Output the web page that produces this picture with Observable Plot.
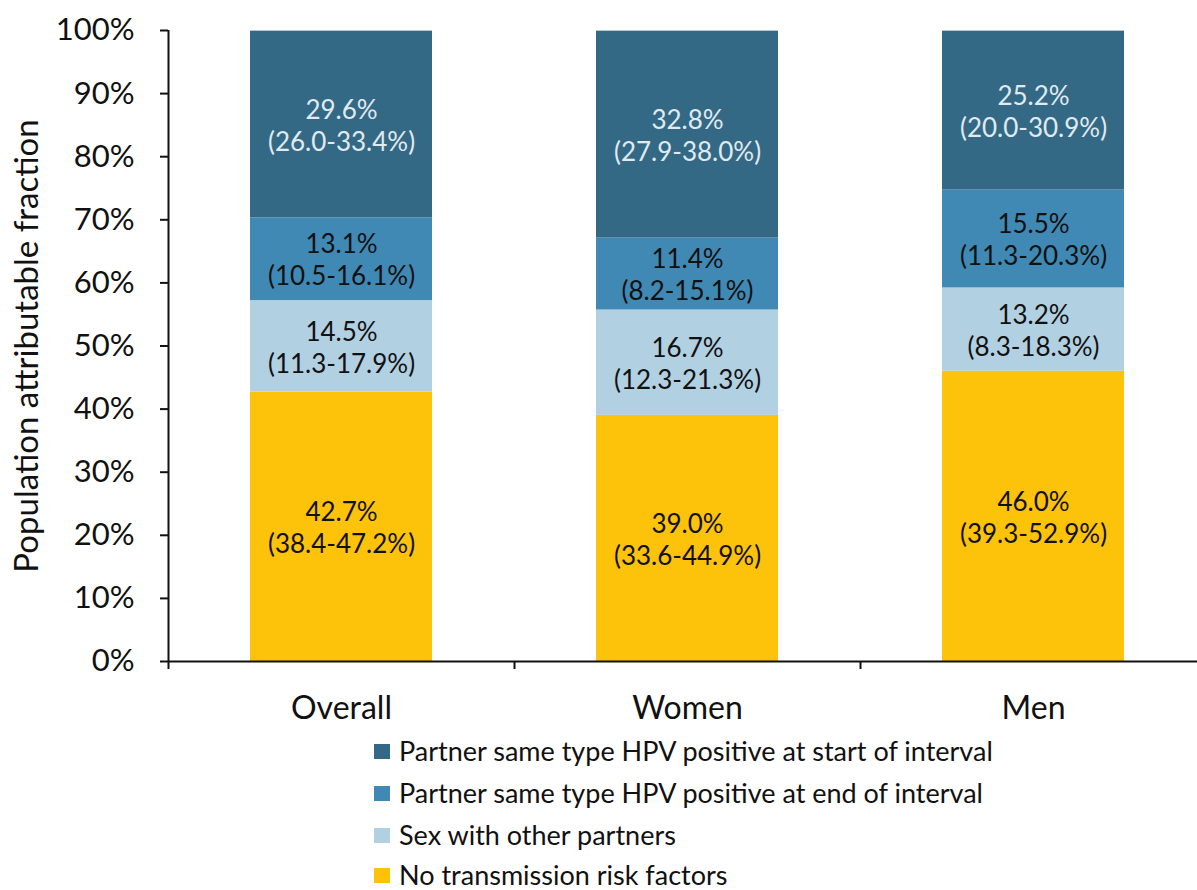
<!DOCTYPE html>
<html>
<head>
<meta charset="utf-8">
<script src="https://cdn.jsdelivr.net/npm/d3@7"></script>
<script src="https://cdn.jsdelivr.net/npm/@observablehq/plot@0.6"></script>
<style>
  body { margin: 0; background: white; }
  #wrap { position: relative; width: 1197px; height: 890px; overflow: hidden; font-family: Lato, "Open Sans", sans-serif; }
  #legend { position: absolute; left: 374px; top: 0; }
  .row { position: absolute; left: 0; display: flex; align-items: center; white-space: nowrap; font-size: 27px; line-height: 26px; color: #111; height: 26px; }
  .sw { width: 16px; height: 15px; margin-right: 9px; flex: none; }
</style>
</head>
<body>
<div id="wrap"><div id="chart"></div><div id="legend"></div></div>
<script>
const categories = ["Overall", "Women", "Men"];
const seriesNames = [
  "No transmission risk factors",
  "Sex with other partners",
  "Partner same type HPV positive at end of interval",
  "Partner same type HPV positive at start of interval"
];
const seriesColors = ["#fcc30a", "#b1d0e2", "#3f89b4", "#336985"];
const labelColors = ["#111", "#111", "#111", "#e0eaf1"];
const noRisk = [42.7, 39.0, 46.0];
const otherPartners = [14.5, 16.7, 13.2];
const partnerEnd = [13.1, 11.4, 15.5];
const partnerStart = [29.6, 32.8, 25.2];
const noRiskCI = ["38.4-47.2%", "33.6-44.9%", "39.3-52.9%"];
const otherPartnersCI = ["11.3-17.9%", "12.3-21.3%", "8.3-18.3%"];
const partnerEndCI = ["10.5-16.1%", "8.2-15.1%", "11.3-20.3%"];
const partnerStartCI = ["26.0-33.4%", "27.9-38.0%", "20.0-30.9%"];
const yTicks = [0, 10, 20, 30, 40, 50, 60, 70, 80, 90, 100];
const yLabel = "Population attributable fraction";

const seriesValues = [noRisk, otherPartners, partnerEnd, partnerStart];
const seriesCI = [noRiskCI, otherPartnersCI, partnerEndCI, partnerStartCI];

const rows = [];
categories.forEach((c, i) => {
  let acc = 0;
  seriesValues.forEach((vals, s) => {
    const v = vals[i];
    rows.push({i, s, y1: acc, y2: acc + v, label: v.toFixed(1) + "%\n(" + seriesCI[s][i] + ")"});
    acc += v;
  });
});

const chart = Plot.plot({
  width: 1197,
  height: 730,
  marginLeft: 168,
  marginRight: 0,
  marginTop: 30,
  marginBottom: 69,
  style: {fontFamily: "Lato, 'Open Sans', sans-serif", background: "white", color: "#111", overflow: "visible"},
  x: {domain: [0, 3], range: [168, 1206]},
  y: {domain: [0, 100], range: [661, 30]},
  marks: [
    Plot.rect(rows, {x1: d => d.i, x2: d => d.i + 1, y1: "y1", y2: "y2", fill: d => seriesColors[d.s], insetLeft: 82, insetRight: 82}),
    Plot.text(rows, {x: d => d.i + 0.5, y: d => (d.y1 + d.y2) / 2, text: "label", fill: d => labelColors[d.s], fontSize: 26, lineHeight: 1.23}),
    Plot.axisY({ticks: yTicks, tickFormat: d => d + "%", tickSize: 8, tickPadding: 26, fontSize: 31, label: null, strokeWidth: 2}),
    Plot.axisX({ticks: [0, 1, 2, 3], tickFormat: () => "", tickSize: 8, label: null, strokeWidth: 2}),
    Plot.text(categories, {x: (d, i) => i + 0.5, y: 0, dy: 47, text: d => d, fontSize: 32, lineAnchor: "middle"}),
    Plot.text([yLabel], {frameAnchor: "left", dx: -141, rotate: -90, text: d => d, fontSize: 33, textAnchor: "middle", lineAnchor: "middle"}),
    Plot.ruleX([0], {y1: 0, y2: 100, strokeWidth: 2}),
    Plot.ruleY([0], {strokeWidth: 2})
  ]
});
document.getElementById("chart").appendChild(chart);

const legendOrder = [3, 2, 1, 0];
const legendCenters = [751, 793, 835, 875];
const legend = document.getElementById("legend");
legendOrder.forEach((s, k) => {
  const row = document.createElement("div");
  row.className = "row";
  row.style.top = (legendCenters[k] - 13) + "px";
  const sw = document.createElement("div");
  sw.className = "sw";
  sw.style.background = seriesColors[s];
  const t = document.createElement("span");
  t.textContent = seriesNames[s];
  row.appendChild(sw);
  row.appendChild(t);
  legend.appendChild(row);
});
</script>
</body>
</html>
